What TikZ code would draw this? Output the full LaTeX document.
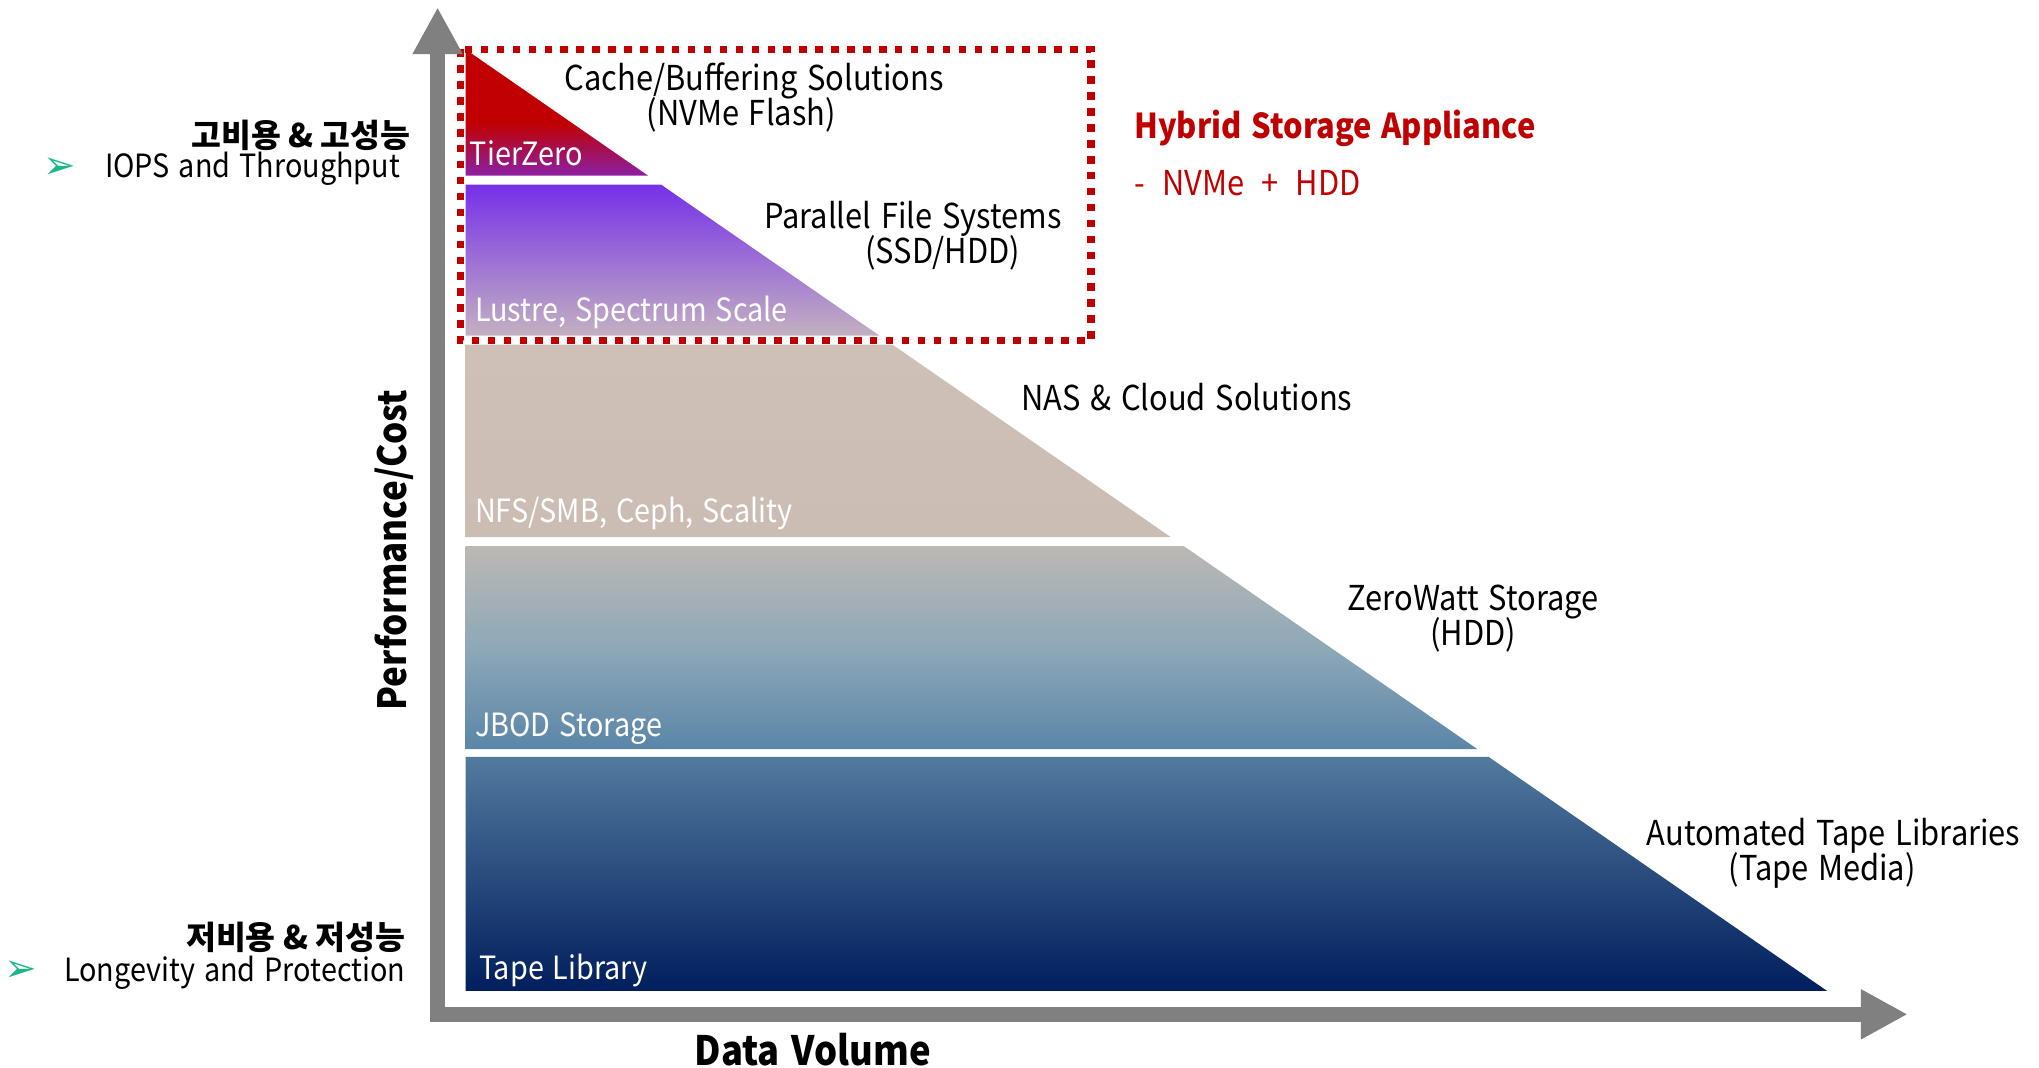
\documentclass[tikz,border=0pt]{standalone}
\usepackage{fontspec}
\setmainfont{Noto Sans CJK KR}[FakeStretch=0.9, WordSpace=1.4]
\newfontfamily\korfont{Noto Sans CJK KR}
\newfontfamily\symfont{DejaVu Sans}
\usetikzlibrary{arrows.meta}
\definecolor{hsared}{HTML}{C00000}
\definecolor{axisgray}{HTML}{808080}
\definecolor{bulletgreen}{HTML}{1DB58A}
\definecolor{tzred}{HTML}{C00000}
\definecolor{tzpurple}{HTML}{8C1FA3}
\definecolor{lstop}{HTML}{7630E8}
\definecolor{lsbot}{HTML}{C3B0C2}
\definecolor{nastop}{HTML}{CEC0B7}
\definecolor{nasbot}{HTML}{CBBDB3}
\definecolor{jbtop}{HTML}{BCB8B4}
\definecolor{jbmid}{HTML}{8EA8B7}
\definecolor{jbbot}{HTML}{5A86A8}
\definecolor{tptop}{HTML}{527A9E}
\definecolor{tpbot}{HTML}{011E5D}

\newcommand\tightlines{\lineskiplimit=-20pt\relax}
\newcommand\widespaces{\spaceskip=0.5em\relax}

% band shadings (0bp = bottom)
\pgfdeclareverticalshading{tierzero}{100bp}{color(0bp)=(tzpurple); color(25bp)=(tzpurple); color(46bp)=(tzred); color(100bp)=(tzred)}
\pgfdeclareverticalshading{lustre}{100bp}{color(0bp)=(lsbot); color(25bp)=(lsbot); color(75bp)=(lstop); color(100bp)=(lstop)}
\pgfdeclareverticalshading{nasband}{100bp}{color(0bp)=(nasbot); color(25bp)=(nasbot); color(75bp)=(nastop); color(100bp)=(nastop)}
\pgfdeclareverticalshading{jbod}{100bp}{color(0bp)=(jbbot); color(25bp)=(jbbot); color(50bp)=(jbmid); color(75bp)=(jbtop); color(100bp)=(jbtop)}
\pgfdeclareverticalshading{tapeband}{100bp}{color(0bp)=(tpbot); color(25bp)=(tpbot); color(75bp)=(tptop); color(100bp)=(tptop)}

\tikzset{
    tierlabel/.style={font=\fontsize{14}{16}\selectfont, text=white, anchor=west, inner sep=0pt},
    solution/.style={font=\fontsize{15}{15.3}\selectfont\tightlines, align=center, inner sep=0pt},
    sidehead/.style={font=\korfont\fontsize{14.2}{16}\selectfont\bfseries, anchor=east, inner sep=0pt},
    sidenote/.style={font=\fontsize{14}{16}\selectfont, anchor=east, inner sep=0pt},
    bullet/.style={font=\symfont\fontsize{17}{19}\selectfont, text=bulletgreen, inner sep=0pt},
    axistitle/.style={font=\fontsize{17}{20}\selectfont\bfseries, inner sep=0pt},
    hsabox/.style={draw=hsared, line width=1.15mm, dash pattern=on 1.15mm off 1.3mm},
    axisline/.style={draw=axisgray, line width=2.4mm, line join=miter,
        {Triangle[length=7.2mm,width=7.2mm]}-{Triangle[length=7.2mm,width=7.2mm]}},
}

\begin{document}
\begin{tikzpicture}[x=0.2mm, y=-0.2mm]
    \useasboundingbox (0,0) rectangle (1568,821);

    % pyramid bands
    \foreach \t/\b/\shd in {38/135/tierzero, 142/258/lustre, 265/413/nasband, 420/576/jbod, 582/762/tapeband} {
        \pgfmathsetmacro\xt{358+(\t-38)*1.4461}
        \pgfmathsetmacro\xb{358+(\b-38)*1.4461}
        \shade[shading=\shd] (358,\t) -- (\xt,\t) -- (\xb,\b) -- (358,\b) -- cycle;
    }

    \draw[hsabox] (354,38) rectangle (839,262);

    % axes
    \coordinate (ytip) at (336.5,5.6);
    \coordinate (origin) at (336.5,780);
    \coordinate (xtip) at (1467,780);
    \draw[axisline] (ytip) -- (origin) -- (xtip);

    \node[tierlabel] (tzlabel) at (361,118) {TierZero};
    \node[tierlabel] (lslabel) at (365,240) {Lustre, Spectrum Scale};
    \node[tierlabel] (naslabel) at (365,395) {NFS/SMB, Ceph, Scality};
    \node[tierlabel] (jblabel) at (365,560) {JBOD Storage};
    \node[tierlabel] (tplabel) at (368,746) {Tape Library};

    \node[solution] (cachesol) at (580,75) {Cache/Buffering Solutions\\(NVMe Flash)\hspace*{0.4cm}};
    \node[solution] (pfssol) at (702,181) {Parallel File Systems\\\hspace*{0.92cm}(SSD/HDD)};
    \node[solution, anchor=west] (nassol) at (785,305) {NAS \& Cloud Solutions};
    \node[solution] (zwsol) at (1133,476) {ZeroWatt Storage\\(HDD)};
    \node[solution] (atlsol) at (1410,656) {Automated Tape Libraries\\(Tape Media)\hspace*{0.35cm}};

    \node[solution, anchor=west, text=hsared, font=\fontsize{15}{18}\selectfont\bfseries] (hsatitle) at (872,99) {Hybrid Storage Appliance};
    \node[solution, anchor=west, text=hsared, font=\fontsize{15}{18}\selectfont\widespaces] (hsanote) at (872,141) {- NVMe + HDD};

    \node[sidehead] (hicost) at (316,104) {고비용 \& 고성능};
    \node[sidenote] (hiperf) at (308,130) {IOPS and Throughput};
    \node[bullet] (hibullet) at (46,129) {➢};
    \node[sidehead] (locost) at (312,721) {저비용 \& 저성능};
    \node[sidenote] (loperf) at (312,748) {Longevity and Protection};
    \node[bullet] (lobullet) at (16,747) {➢};

    \node[axistitle, rotate=90] (perfaxis) at (303,423) {Performance/Cost};
    \node[axistitle, font=\fontsize{17.7}{20}\selectfont\bfseries] (volaxis) at (625,807) {Data Volume};
\end{tikzpicture}
\end{document}
